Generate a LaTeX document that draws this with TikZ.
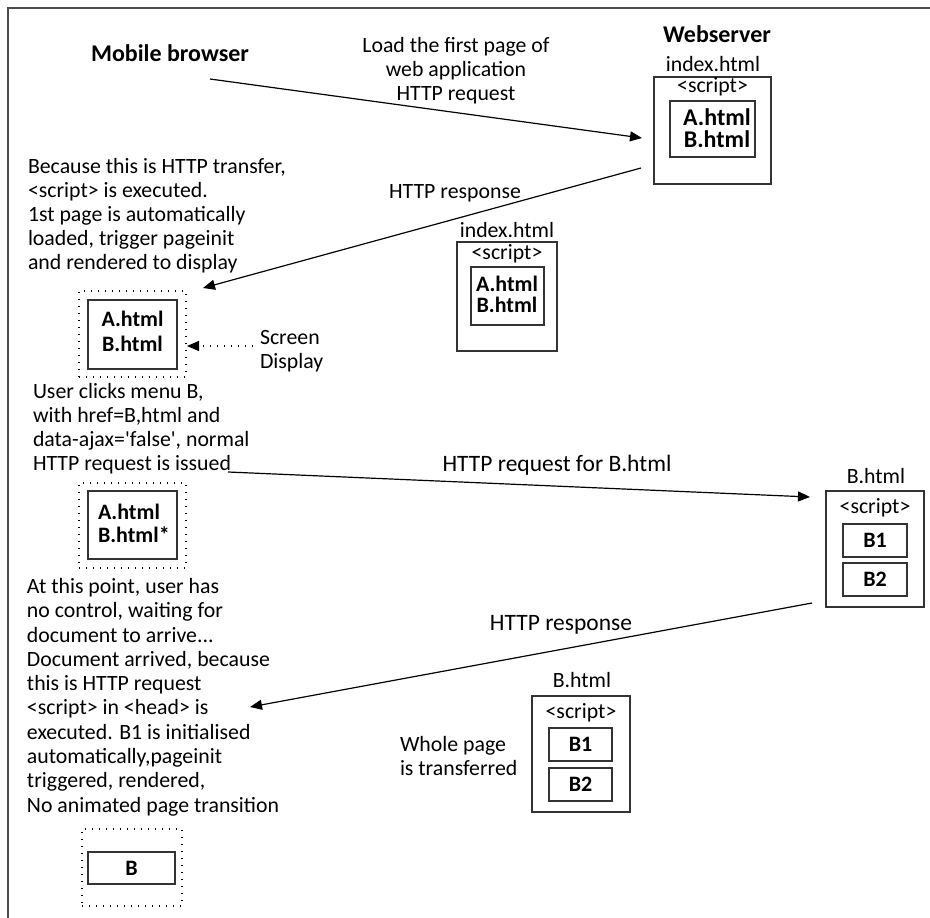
\documentclass[tikz,border=0pt]{standalone}
\usepackage{fontspec}
\setmainfont{Carlito}
\usetikzlibrary{arrows.meta}
\begin{document}
\begin{tikzpicture}[x=1pt,y=-1pt,
  every node/.style={inner sep=0pt, outer sep=0pt},
  reg/.style={font=\fontsize{21.8}{24}\selectfont},
  big/.style={font=\fontsize{23.5}{27}\selectfont},
  hdr/.style={font=\bfseries\fontsize{24}{28}\selectfont},
  bld/.style={font=\bfseries\fontsize{22}{22}\selectfont},
  bldbig/.style={font=\bfseries\fontsize{24}{22}\selectfont},
  filebox/.style={draw=black!80, line width=1.2pt},
  dotbox/.style={draw=black, line width=1.2pt, dash pattern=on 1.2pt off 5.8pt},
  conn/.style={draw=black, line width=1.2pt, -{Triangle[length=12pt,width=10pt]}},
  dotconn/.style={draw=black, line width=1.2pt, dash pattern=on 1.2pt off 5.8pt, -{Triangle[length=12pt,width=10pt]}},
  frameline/.style={draw=black!70, line width=2pt}
]
\useasboundingbox (0,0) rectangle (930,918);
\draw[frameline] (8,918) -- (8,8) -- (930,8);

% headers
\node[hdr, anchor=base] (mb) at (170,61) {Mobile browser};
\node[hdr, anchor=base] (ws) at (717,42) {Webserver};

% webserver file
\node[filebox, minimum width=117pt, minimum height=107pt] (wsfile) at (712.5,130.5) {};
\node[reg, anchor=base] (wsname) at (713,71) {index.html};
\node[reg, anchor=base] (wsscript) at (712.5,92) {<script>};
\node[filebox, minimum width=85pt, minimum height=56pt] (wsinner) at (712.5,129) {};
\node[bldbig, align=center] (wsab) at (717,128.5) {A.html\\B.html};

% transferred index file
\node[filebox, minimum width=100pt, minimum height=109pt] (mifile) at (507,296.5) {};
\node[reg, anchor=base] (miname) at (507,237.5) {index.html};
\node[reg, anchor=base] (miscript) at (507,259) {<script>};
\node[filebox, minimum width=73pt, minimum height=58pt] (miinner) at (507.5,296) {};
\node[bld, align=center, font=\bfseries\fontsize{22}{21}\selectfont] (miab) at (507,294.8) {A.html\\B.html};

% screen 1
\node[dotbox, minimum width=107pt, minimum height=86pt] (scr1) at (132.5,334) {};
\node[filebox, minimum width=89pt, minimum height=69pt] (scr1in) at (132.5,334.5) {};
\node[bld, align=center, font=\bfseries\fontsize{22}{25}\selectfont] (scr1ab) at (132.5,331.8) {A.html\\B.html};

% screen 2
\node[dotbox, minimum width=107pt, minimum height=85pt] (scr2) at (132.5,525.5) {};
\node[filebox, minimum width=89pt, minimum height=68pt] (scr2in) at (132.5,525) {};
\node[bld, align=left, anchor=west, font=\bfseries\fontsize{22}{23}\selectfont] (scr2ab) at (98,523.8) {A.html\\B.html*};

% screen 3
\node[dotbox, minimum width=100pt, minimum height=77pt] (scr3) at (132,867.5) {};
\node[filebox, bld, minimum width=87pt, minimum height=32pt] (scr3in) at (131.5,868) {B};

% B.html on server
\node[filebox, minimum width=98pt, minimum height=116pt] (rbfile) at (875,549) {};
\node[reg, anchor=base] (rbname) at (876,483) {B.html};
\node[reg, anchor=base] (rbscript) at (875,513) {<script>};
\node[filebox, bld, minimum width=64pt, minimum height=33pt] (rb1) at (875,540.5) {B1};
\node[filebox, bld, minimum width=64pt, minimum height=33pt] (rb2) at (875,579.5) {B2};

% B.html transferred
\node[filebox, minimum width=98pt, minimum height=116pt] (mbfile) at (581,754) {};
\node[reg, anchor=base] (mbname) at (582,687) {B.html};
\node[reg, anchor=base] (mbscript) at (581,718) {<script>};
\node[filebox, bld, minimum width=63pt, minimum height=33pt] (mb1) at (580.5,744.5) {B1};
\node[filebox, bld, minimum width=63pt, minimum height=33pt] (mb2) at (580.5,784.5) {B2};

% text blocks
\node[reg, align=center, anchor=north] (lbl1) at (456,37.3) {Load the first page of\\web application\\HTTP request};
\node[reg, anchor=base] (lbl2) at (455,198) {HTTP response};
\node[big, anchor=base] (lbl3) at (557,471) {HTTP request for B.html};
\node[big, anchor=base] (lbl4) at (561,630) {HTTP response};

\node[reg, align=left, anchor=north west] (t1) at (28,158.3) {Because this is HTTP transfer,\\<script> is executed.\\1st page is automatically\\loaded, trigger pageinit\\and rendered to display};
\node[reg, align=left, anchor=north west] (t2) at (33,383.3) {User clicks menu B,\\with href=B,html and\\data-ajax=\textquotesingle false\textquotesingle, normal\\HTTP request is issued};
\node[align=left, anchor=north west, font=\fontsize{21.8}{24.3}\selectfont] (t3) at (27,578.3) {At this point, user has\\no control, waiting for\\document to arrive...\\Document arrived, because\\this is HTTP request\\<script> in <head> is\\executed. B1 is initialised\\automatically,pageinit\\triggered, rendered,\\No animated page transition};
\node[reg, align=left, anchor=north west] (t4) at (260,330.3) {Screen\\Display};
\node[reg, align=left, anchor=north west] (t5) at (400,736.3) {Whole page\\is transferred};

% connectors
\coordinate (a1s) at (210,79);
\coordinate (a1e) at (642,138);
\coordinate (a2s) at (641,168);
\coordinate (a2e) at (203,288);
\coordinate (a3s) at (228,472);
\coordinate (a3e) at (810,497);
\coordinate (a4s) at (812,603);
\coordinate (a4e) at (250,707);
\coordinate (a5s) at (253,346);
\coordinate (a5e) at (187,346);
\draw[conn] (a1s) -- (a1e);
\draw[conn] (a2s) -- (a2e);
\draw[conn] (a3s) -- (a3e);
\draw[conn] (a4s) -- (a4e);
\draw[dotconn] (a5s) -- (a5e);
\end{tikzpicture}
\end{document}
